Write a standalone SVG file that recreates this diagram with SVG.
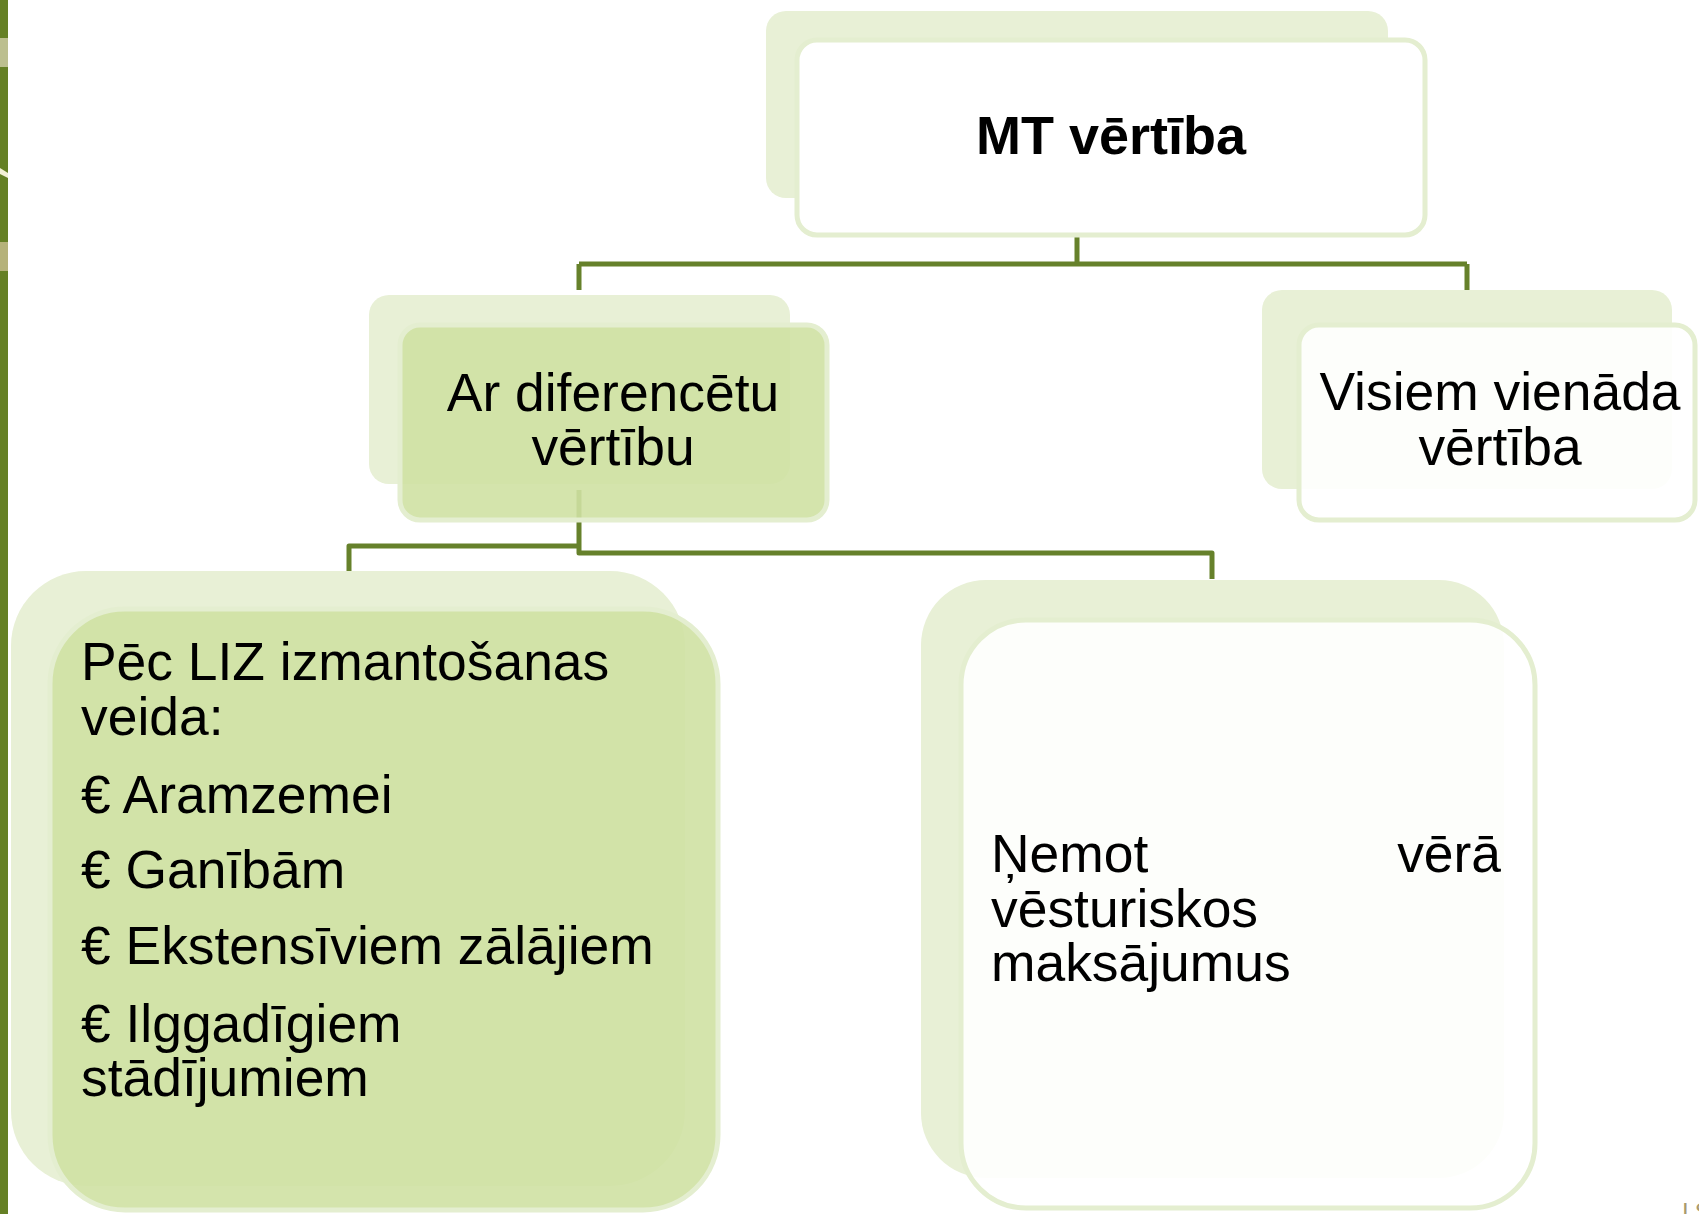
<svg xmlns="http://www.w3.org/2000/svg" width="1699" height="1214" viewBox="0 0 1699 1214">
  <style>
    .back { fill: #e8f0d6; }
    .frontG { fill: #cfe1a3; fill-opacity: 0.9; stroke: #e4eed0; stroke-width: 5; }
    .frontW { fill: #ffffff; fill-opacity: 0.9; stroke: #e4eed0; stroke-width: 5; }
    .t { font-family: "Liberation Sans", Arial, sans-serif; font-size: 53.4px; fill: #000000; }
    .c { text-anchor: middle; }
    .conn { fill: none; stroke: #66812b; stroke-width: 5; stroke-linejoin: round; }
  </style>
  <rect x="0" y="0" width="1699" height="1214" fill="#ffffff"/>
  <g id="sidebar">
    <rect x="0" y="0" width="8" height="1214" fill="#658025"/>
    <rect x="0" y="38" width="8" height="29" fill="#bcbf8f"/>
    <rect x="0" y="242" width="8" height="29" fill="#b5b27a"/>
    <polygon points="0,168 8,173 8,178 0,174" fill="#f4f1d6"/>
  </g>
  <g id="connectors">
    <path class="conn" d="M1077,235 V264 M579,264 H1467 M579,264 V290 M1467,264 V290"/>
    <path class="conn" d="M579,490 V553 H1212 V579 M579,546 H349 V571"/>
  </g>
  <g id="node-mt">
    <rect class="back" x="766" y="11" width="622" height="187" rx="20"/>
    <rect class="frontW" x="797" y="40" width="628" height="195" rx="20" style="fill-opacity:1"/>
    <text class="t c" x="1111" y="154" font-size="54" font-weight="bold" style="font-size:54px;font-weight:bold">MT vērtība</text>
  </g>
  <g id="node-ar">
    <rect class="back" x="369" y="295" width="421" height="189" rx="20"/>
    <rect class="frontG" x="400" y="325" width="427" height="195" rx="20"/>
    <text class="t c" x="613" y="411">Ar diferencētu</text>
    <text class="t c" x="613" y="465">vērtību</text>
  </g>
  <g id="node-visiem">
    <rect class="back" x="1262" y="290" width="410" height="199" rx="20"/>
    <rect class="frontW" x="1299" y="325" width="396" height="195" rx="20"/>
    <text class="t c" x="1500" y="410">Visiem vienāda</text>
    <text class="t c" x="1500" y="465">vērtība</text>
  </g>
  <g id="node-pec">
    <rect class="back" x="11" y="571" width="674" height="615" rx="75"/>
    <rect class="frontG" x="50" y="609" width="668" height="601" rx="75"/>
    <text class="t" x="81" y="680">Pēc LIZ izmantošanas</text>
    <text class="t" x="81" y="735">veida:</text>
    <text class="t" x="81" y="813">€ Aramzemei</text>
    <text class="t" x="81" y="888">€ Ganībām</text>
    <text class="t" x="81" y="964">€ Ekstensīviem zālājiem</text>
    <text class="t" x="81" y="1042">€ Ilggadīgiem</text>
    <text class="t" x="81" y="1096">stādījumiem</text>
  </g>
  <g id="node-nemot">
    <rect class="back" x="921" y="580" width="583" height="598" rx="65"/>
    <rect class="frontW" x="961" y="620" width="574" height="588" rx="65"/>
    <text class="t" x="991" y="872">Ņemot</text>
    <text class="t" x="1501" y="872" text-anchor="end">vērā</text>
    <text class="t" x="991" y="927">vēsturiskos</text>
    <text class="t" x="991" y="981">maksājumus</text>
  </g>
  <text x="1682" y="1220" font-family="Liberation Sans, Arial, sans-serif" font-size="24" letter-spacing="6" fill="#a89a6e">IS</text>
</svg>
